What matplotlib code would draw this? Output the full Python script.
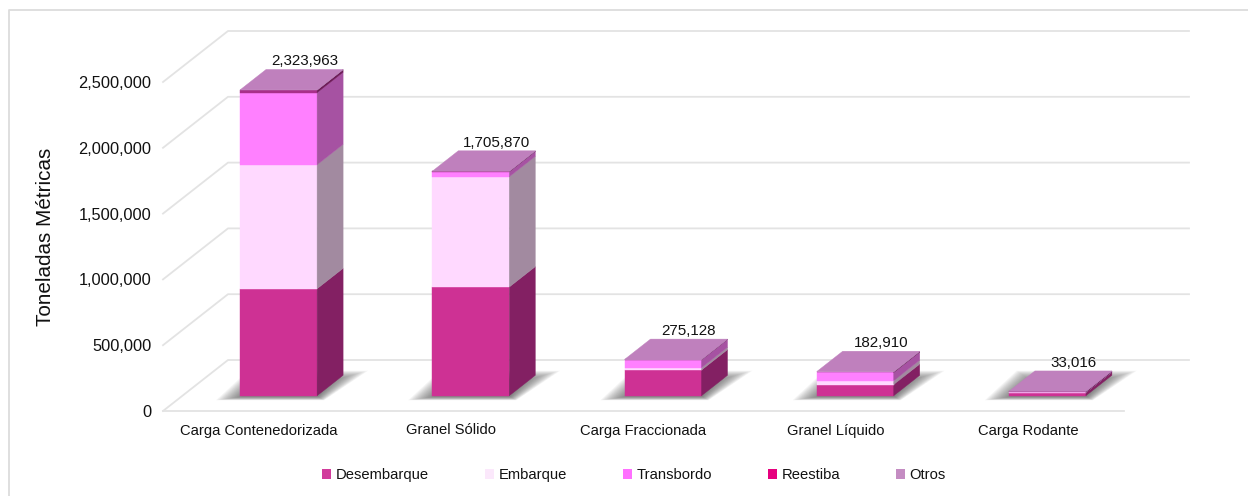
import matplotlib
matplotlib.use("Agg")
import matplotlib.pyplot as plt
from matplotlib.lines import Line2D
from matplotlib.patches import Polygon, Patch

plt.rcParams['font.family'] = ['Liberation Sans', 'DejaVu Sans']

categories = ["Carga Contenedorizada", "Granel Sólido", "Carga Fraccionada", "Granel Líquido", "Carga Rodante"]
series_names = ["Desembarque", "Embarque", "Transbordo", "Reestiba", "Otros"]
desembarque = [813000, 826000, 195000, 85000, 24000]
embarque = [942000, 838000, 18000, 30000, 1000]
transbordo = [548000, 38000, 60000, 62000, 1000]
reestiba = [19000, 2000, 1128, 3000, 6000]
otros = [1963, 1870, 1000, 2910, 1016]
totals = [2323963, 1705870, 275128, 182910, 33016]
yticks = [0, 500000, 1000000, 1500000, 2000000, 2500000]

front_colors = ["#CE3194", "#FFD9FF", "#FF80FF", "#A8308A", "#BF80BD"]
side_colors = ["#832063", "#A28AA0", "#A652A2", "#6E1A58", "#A078A0"]
legend_colors = ["#D23C9C", "#FBE8FB", "#FF70FF", "#E6007E", "#C48CC2"]
top_color = "#BF80BD"
grid_color = "#E3E3E3"

W, H = 1248, 496
fig = plt.figure(figsize=(W / 100, H / 100), dpi=100)
fig.patch.set_facecolor("white")
# chart frame: only its top and left edges fall inside the picture
fig.add_artist(Line2D([8.5 / W, 8.5 / W, 1], [0, 1 - 9.5 / H, 1 - 9.5 / H], transform=fig.transFigure,
                      color="#DCDCDC", lw=1.3))

# front plane of the floor: left 163, right 1124, y=411; top value 2.5M at y=82
ax = fig.add_axes([163 / W, 1 - 411 / H, 961 / W, 329 / H])
ax.set_xlim(-0.5, 4.5)
ax.set_ylim(0, 2500000)
ax.patch.set_visible(False)
for s in ax.spines.values():
    s.set_visible(False)

PX = 5 / 961            # category units per pixel
PY = 2500000 / 329      # value units per pixel
DX, DY = 65 * PX, 51 * PY  # full depth of the floor
D0, D1 = 0.30, 0.70     # bars occupy this share of depth
BW = 77 * PX


def proj(x, v, d):
    return (x + DX * d, v + DY * d)


# gridlines
for v in yticks:
    xs = [-0.5, -0.5 + DX, 4.5 + DX]
    ys = [v, v + DY, v + DY]
    ax.plot(xs, ys, color=grid_color, lw=1.3, clip_on=False, zorder=1)
ax.plot([-0.5, 4.5], [0, 0], color=grid_color, lw=1.3, clip_on=False, zorder=1)

stack = [desembarque, embarque, transbordo, reestiba, otros]
for i in range(len(categories)):
    x0, x1 = i - BW / 2, i + BW / 2
    # soft shadow on the floor
    n_layers = 18
    for k in range(n_layers):
        back = D1 + 0.09 - k * 0.011
        front = -(4.5 - k * 0.2) * PY
        sh = [proj(x0 - (24 - k * 1.5) * PX, front, D0),
              proj(x1 + (7 - k * 0.35) * PX, front, D0),
              proj(x1 + (19 - k * 1.3) * PX, 0, back),
              proj(x0 - (24 - k * 1.5) * PX, 0, back)]
        ax.add_patch(Polygon(sh, closed=True, fc="#4A4A4A", ec="none", alpha=0.055,
                             clip_on=False, zorder=2))
    base = 0
    for s, vals in enumerate(stack):
        h = vals[i]
        top = base + h
        ax.add_patch(Polygon([proj(x0, base, D0), proj(x1, base, D0), proj(x1, top, D0), proj(x0, top, D0)],
                             closed=True, fc=front_colors[s], ec=front_colors[s], lw=0.3,
                             clip_on=False, zorder=3))
        ax.add_patch(Polygon([proj(x1, base, D0), proj(x1, base, D1), proj(x1, top, D1), proj(x1, top, D0)],
                             closed=True, fc=side_colors[s], ec=side_colors[s], lw=0.3,
                             clip_on=False, zorder=3))
        base = top
    ax.add_patch(Polygon([proj(x0, base, D0), proj(x1, base, D0), proj(x1, base, D1), proj(x0, base, D1)],
                         closed=True, fc=top_color, ec=top_color, lw=0.3, clip_on=False, zorder=4))
    lx, ly = proj(i, totals[i], D1)
    ax.text(lx, ly + 1 * PY, f"{totals[i]:,}", ha="center", va="bottom", fontsize=10.9,
            color="#111111", clip_on=False, zorder=5)

ax.set_xticks(range(len(categories)))
ax.set_xticklabels(categories, fontsize=10.6, color="#111111")
ax.set_yticks(yticks)
ax.set_yticklabels([f"{v:,}" for v in yticks], fontsize=11.8, color="#111111")
ax.tick_params(axis="both", length=0)
ax.tick_params(axis="x", pad=9)
ax.tick_params(axis="y", pad=8.5)
fig.text(46 / W, 1 - 237 / H, "Toneladas Métricas", rotation=90, ha="center", va="center",
         fontsize=14.9, color="#111111")

handles = [Patch(fc=c, ec="none", label=n) for c, n in zip(legend_colors, series_names)]
leg = fig.legend(handles=handles, ncol=5, loc="center", bbox_to_anchor=(634 / W, 1 - 475 / H),
                 frameon=False, fontsize=10.6, handlelength=0.62, handleheight=0.62,
                 handletextpad=0.3, columnspacing=3.8, labelcolor="#111111")

fig.savefig("out.png", dpi=100, facecolor="white")
